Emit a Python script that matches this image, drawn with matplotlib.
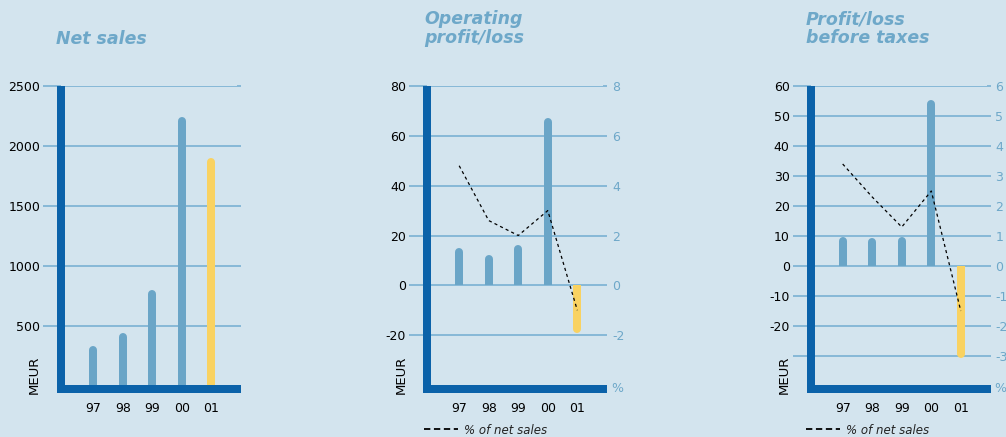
import numpy as np
import matplotlib
matplotlib.use("Agg")
import matplotlib.pyplot as plt
from matplotlib.lines import Line2D

# yearly key figures, MEUR and % of net sales
years = ["97", "98", "99", "00", "01"]
net_sales = [330, 440, 800, 2240, 1900]
operating = [15, 12, 16, 67, -19]
operating_pct = [4.8, 2.6, 2.0, 3.0, -1.0]
pretax = [9.8, 9.2, 9.8, 55.5, -30.6]
pretax_pct = [3.4, 2.3, 1.3, 2.5, -1.5]

sales_ticks = [500, 1000, 1500, 2000, 2500]
sales_labels = ["500", "1000", "1500", "2000", "2500"]
op_ticks = [-20, 0, 20, 40, 60, 80]
op_labels = ["-20", "0", "20", "40", "60", "80"]
op_pct_ticks = [-2, 0, 2, 4, 6, 8]
pt_ticks = [-30, -20, -10, 0, 10, 20, 30, 40, 50, 60]
pt_labels = ["", "-20", "-10", "0", "10", "20", "30", "40", "50", "60"]
pt_pct_ticks = [-3, -2, -1, 0, 1, 2, 3, 4, 5, 6]

BG = "#d3e4ee"
BAR = "#6aa5c7"
HIGHLIGHT = "#f9d261"
AXIS = "#0b62a9"
GRID = "#7ab1d3"
LIGHT = "#6ea8c9"

W, H = 1006, 437
TOP, BOTTOM = 86, 389
BAR_PX = 8

plt.rcParams["font.family"] = ["DejaVu Sans"]
plt.rcParams["axes.unicode_minus"] = False

fig = plt.figure(figsize=(W / 100, H / 100), dpi=100, facecolor=BG)


def fx(px):
    return px / W


def fy(py):
    return 1 - py / H


def make_axes(left, right, ylim, ticks, labels):
    ax = fig.add_axes([fx(left), fy(BOTTOM), fx(right - left), (BOTTOM - TOP) / H])
    ax.set_facecolor("none")
    ax.set_xlim(-1.09, 4.87)
    ax.set_ylim(*ylim)
    ax.set_yticks(ticks, labels)
    ax.set_xticks(np.arange(len(years)), years)
    for side in ("top", "right"):
        ax.spines[side].set_visible(False)
    for side in ("left", "bottom"):
        ax.spines[side].set_color(AXIS)
        ax.spines[side].set_linewidth(BAR_PX * 0.72)
    ax.spines["left"].set_capstyle("butt")
    ax.spines["bottom"].set_capstyle("projecting")
    ax.grid(axis="y", color=GRID, lw=1.2)
    ax.set_axisbelow(True)
    ax.tick_params(axis="y", direction="out", length=13, width=1.2, color=GRID,
                   labelsize=9, labelcolor="black", pad=2)
    ax.tick_params(axis="x", length=0, labelsize=9, pad=9)
    return ax


def right_axis(ax, scale, ticks, pct_x=None):
    ax2 = ax.twinx()
    lo, hi = ax.get_ylim()
    ax2.set_ylim(lo * scale, hi * scale)
    ax2.set_yticks(ticks)
    for sp in ax2.spines.values():
        sp.set_visible(False)
    ax2.tick_params(axis="y", direction="out", length=2.9, width=1.2, color=GRID,
                    labelsize=9, labelcolor=LIGHT, pad=3.5)
    if pct_x is None:
        ax2.tick_params(axis="y", labelright=False)
    else:
        fig.text(fx(pct_x), fy(BOTTOM), "%", color=LIGHT, fontsize=9,
                 ha="left", va="center")
    return ax2


def draw_bars(ax, values):
    x = np.arange(len(values))
    lo, hi = ax.get_ylim()
    r = (BAR_PX / 2) * (hi - lo) / (BOTTOM - TOP)
    width = BAR_PX / 29.5
    colors = [BAR] * (len(values) - 1) + [HIGHLIGHT]
    for xi, v, c in zip(x, values, colors):
        s = np.sign(v)
        ax.bar(xi, v - s * r, width=width, color=c, zorder=2, lw=0)
        ax.plot([xi, xi], [v - 2 * s * r, v - s * r], color=c, lw=BAR_PX * 0.72,
                solid_capstyle="round", zorder=2)


def draw_pct(ax2, values):
    ax2.plot(np.arange(len(values)), values, color="black", lw=0.9,
             linestyle=(0, (2.5, 2.5)), zorder=3)


def title(x, y, text):
    fig.text(fx(x), fy(y), text, color=LIGHT, fontsize=12.5, fontweight="bold",
             fontstyle="italic", ha="left", va="top", linespacing=1.05)


def meur(x):
    fig.text(fx(x), fy(394), "MEUR", rotation=90, fontsize=9.5,
             ha="center", va="bottom")


def pct_legend(ax, x):
    handle = Line2D([], [], color="black", lw=1.3, dashes=(3.5, 2))
    ax.legend([handle], ["% of net sales"], loc="center left",
              bbox_to_anchor=(fx(x), fy(430)), bbox_transform=fig.transFigure,
              frameon=False, handlelength=2.9, handletextpad=0.5,
              borderpad=0, borderaxespad=0,
              prop={"size": 8.5, "style": "italic"}, labelcolor="#222222")


# Net sales
ax1 = make_axes(61, 237, (-25, 2500), sales_ticks, sales_labels)
draw_bars(ax1, net_sales)
right_axis(ax1, 1.0, sales_ticks)
title(56, 30, "Net sales")
meur(34)

# Operating profit/loss
ax2 = make_axes(427, 603, (-41.6, 80), op_ticks, op_labels)
draw_bars(ax2, operating)
ax2r = right_axis(ax2, 0.1, op_pct_ticks, 611)
draw_pct(ax2r, operating_pct)
title(424, 10, "Operating\nprofit/loss")
meur(401)
pct_legend(ax2, 424)

# Profit/loss before taxes
ax3 = make_axes(810.5, 986.5, (-41, 60), pt_ticks, pt_labels)
draw_bars(ax3, pretax)
ax3r = right_axis(ax3, 0.1, pt_pct_ticks, 994)
draw_pct(ax3r, pretax_pct)
title(806, 10, "Profit/loss\nbefore taxes")
meur(784)
pct_legend(ax3, 806)

fig.savefig("out.png", dpi=100, facecolor=BG)
